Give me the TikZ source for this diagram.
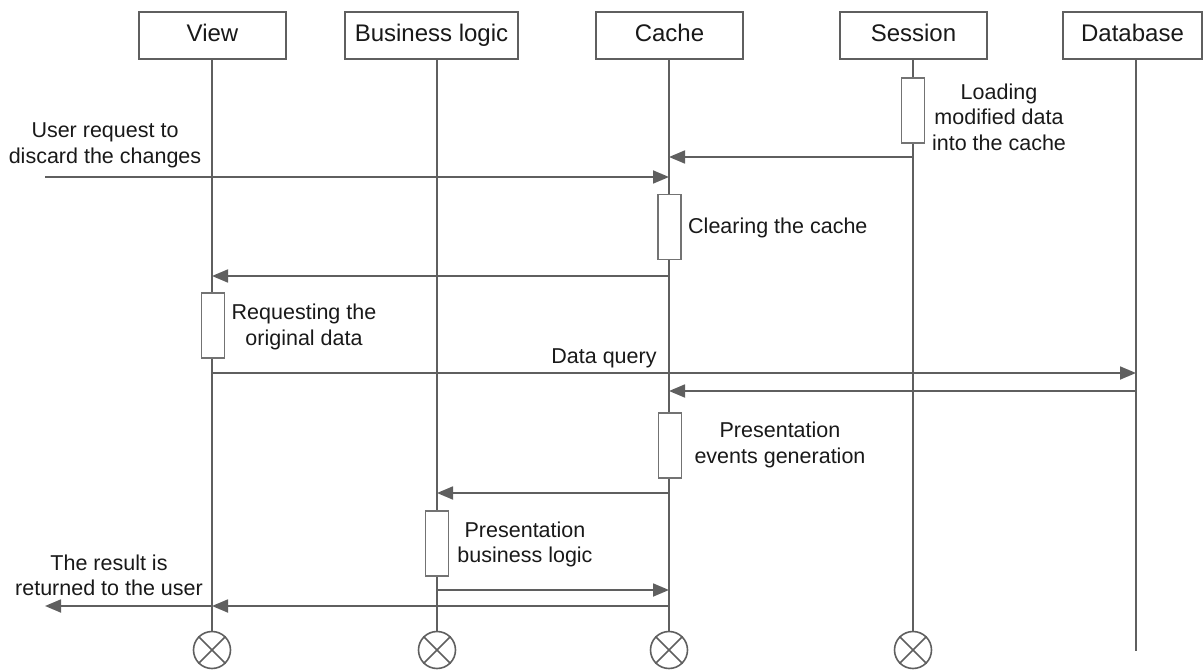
\documentclass[tikz,border=0pt]{standalone}
\usepackage{fontspec}
\setmainfont{Liberation Sans}
\usetikzlibrary{arrows.meta}
\definecolor{lc}{RGB}{95,95,95}
\definecolor{ac}{RGB}{115,115,115}
\definecolor{tc}{RGB}{25,25,25}
\begin{document}
\begin{tikzpicture}[x=1pt,y=-1pt,
  hdr/.style={draw=lc, line width=2.2pt, fill=white, minimum height=47pt, inner sep=0pt, text height=17.5pt, text depth=4.5pt, font=\fontsize{24}{28}\selectfont, text=tc},
  act/.style={draw=ac, line width=1.4pt, fill=white, minimum width=23pt, minimum height=65pt, inner sep=0pt},
  life/.style={draw=lc, line width=2pt},
  msg/.style={draw=lc, line width=1.8pt, -{Triangle[length=16pt,width=13pt]}},
  lbl/.style={font=\fontsize{21.5}{25.5}\selectfont, text=tc, align=center, inner sep=0pt},
  endx/.style={circle, draw=lc, line width=1.6pt, minimum size=37pt, inner sep=0pt}]
\useasboundingbox (0,0) rectangle (1203,671);
% headers
\node[hdr, minimum width=147pt] (hV) at (212.5,35.5) {View};
\node[hdr, minimum width=173pt] (hB) at (431.5,35.5) {Business logic};
\node[hdr, minimum width=147pt] (hC) at (669.5,35.5) {Cache};
\node[hdr, minimum width=147pt] (hS) at (913.5,35.5) {Session};
\node[hdr, minimum width=139pt] (hD) at (1132.5,35.5) {Database};
% end markers
\node[endx] (eV) at (212,650) {};
\node[endx] (eB) at (437,650) {};
\node[endx] (eC) at (669,650) {};
\node[endx] (eS) at (913,650) {};
\coordinate (eD) at (1136,651);
\foreach \e in {eV,eB,eC,eS}{
  \draw[lc, line width=1.6pt] (\e.north west) -- (\e.south east);
  \draw[lc, line width=1.6pt] (\e.north east) -- (\e.south west);
}
% lifelines
\draw[life] (hV.south -| eV) -- (eV.north);
\draw[life] (hB.south -| eB) -- (eB.north);
\draw[life] (hC.south -| eC) -- (eC.north);
\draw[life] (hS.south -| eS) -- (eS.north);
\draw[life] (hD.south -| eD) -- (eD);
% free ends
\coordinate (uin) at (45,177);
\coordinate (uout) at (45,606);
% messages
\draw[msg] (eS |- 0,157) -- (eC |- 0,157);
\draw[msg] (uin) -- (eC |- uin);
\draw[msg] (eC |- 0,276) -- (eV |- 0,276);
\draw[msg] (eV |- 0,373) -- (eD |- 0,373);
\draw[msg] (eD |- 0,391) -- (eC |- 0,391);
\draw[msg] (eC |- 0,493) -- (eB |- 0,493);
\draw[msg] (eB |- 0,590) -- (eC |- 0,590);
\draw[msg] (eC |- uout) -- (eV |- uout);
\draw[msg] (eV |- uout) -- (uout);
% activations
\node[act] (aS) at (913,110.5) {};
\node[act] (aC1) at (669.5,227) {};
\node[act] (aV) at (213,325.5) {};
\node[act] (aC2) at (670,445.5) {};
\node[act] (aB) at (437,543.5) {};
% labels
\node[lbl] (l1) at (999,117) {Loading\\modified data\\into the cache};
\node[lbl] (l2) at (105,145.5) {User request to\\discard the changes};
\node[lbl, anchor=west] (l3) at (688,228) {Clearing the cache};
\node[lbl] (l4) at (304,327) {Requesting the\\original data};
\node[lbl] (l5) at (604,358) {Data query};
\node[lbl] (l6) at (780,445) {Presentation\\events generation};
\node[lbl] (l7) at (525,544.5) {Presentation\\business logic};
\node[lbl] (l8) at (109,575.5) {The result is\\returned to the user};
\end{tikzpicture}
\end{document}
